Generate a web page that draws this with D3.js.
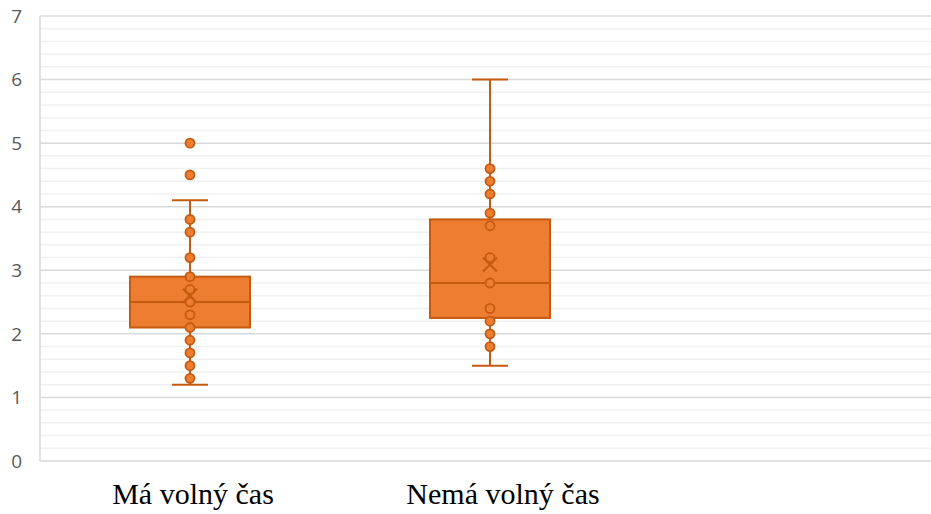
<!DOCTYPE html>
<html>
<head>
<meta charset="utf-8">
<script src="https://cdn.jsdelivr.net/npm/d3@7"></script>
<style>
  body { margin: 0; background: #fff; }
  svg { display: block; }
</style>
</head>
<body>
<svg id="chart" width="931" height="514"></svg>
<script>
// categories (third slot left empty, like the source chart)
const categories = ["Má volný čas", "Nemá volný čas", ""];

// box statistics
const q1 = [2.1, 2.25];
const median = [2.5, 2.8];
const q3 = [2.9, 3.8];
const mean = [2.6, 3.09];
const whiskerLow = [1.2, 1.5];
const whiskerHigh = [4.1, 6.0];

// individual points (inner points + outliers)
const pointsMa = [5.0, 4.5, 3.8, 3.6, 3.2, 2.9, 2.7, 2.5, 2.3, 2.1, 1.9, 1.7, 1.5, 1.3];
const pointsNema = [4.6, 4.4, 4.2, 3.9, 3.7, 3.2, 2.8, 2.4, 2.2, 2.0, 1.8];
const points = [pointsMa, pointsNema];

const yTicks = [0, 1, 2, 3, 4, 5, 6, 7];

const fill = "#ED7D31", stroke = "#C55A11";

const svg = d3.select("#chart");
const margin = { left: 40, right: -9, top: 16, bottom: 53 };
const W = 931, H = 514;

const x = d3.scaleBand()
    .domain(categories)
    .range([margin.left, W - margin.right]);

const y = d3.scaleLinear()
    .domain([0, 7])
    .range([H - margin.bottom, margin.top]);

// minor gridlines
const minor = d3.range(0, 7.001, 0.2).filter(v => Math.abs(v - Math.round(v)) > 0.01);
svg.append("g")
    .selectAll("line")
    .data(minor)
    .enter().append("line")
    .attr("x1", margin.left).attr("x2", W)
    .attr("y1", d => y(d)).attr("y2", d => y(d))
    .attr("stroke", "#f0f0f0")
    .attr("stroke-width", 1.5);

// major gridlines
svg.append("g")
    .selectAll("line")
    .data(yTicks)
    .enter().append("line")
    .attr("x1", margin.left).attr("x2", W)
    .attr("y1", d => y(d)).attr("y2", d => y(d))
    .attr("stroke", "#d9d9d9")
    .attr("stroke-width", 1.5);

// left axis line
svg.append("line")
    .attr("x1", margin.left).attr("x2", margin.left)
    .attr("y1", y(7)).attr("y2", y(0))
    .attr("stroke", "#d9d9d9")
    .attr("stroke-width", 1.5);

// y tick labels
svg.append("g")
    .selectAll("text")
    .data(yTicks)
    .enter().append("text")
    .attr("x", 22)
    .attr("y", d => y(d))
    .attr("dy", "0.35em")
    .attr("text-anchor", "end")
    .attr("font-family", "'Open Sans', 'Liberation Sans', sans-serif")
    .attr("font-size", 19)
    .attr("fill", "#595959")
    .text(d => d);

const boxW = 120;
const capW = 36;
const labelShift = [3, 13];

categories.slice(0, 2).forEach((c, i) => {
    const cx = x(c) + x.bandwidth() / 2;
    const g = svg.append("g");

    // whiskers
    g.append("line")
        .attr("x1", cx).attr("x2", cx)
        .attr("y1", y(whiskerHigh[i])).attr("y2", y(q3[i]))
        .attr("stroke", stroke).attr("stroke-width", 2);
    g.append("line")
        .attr("x1", cx).attr("x2", cx)
        .attr("y1", y(q1[i])).attr("y2", y(whiskerLow[i]))
        .attr("stroke", stroke).attr("stroke-width", 2);
    [whiskerHigh[i], whiskerLow[i]].forEach(v => {
        g.append("line")
            .attr("x1", cx - capW / 2).attr("x2", cx + capW / 2)
            .attr("y1", y(v)).attr("y2", y(v))
            .attr("stroke", stroke).attr("stroke-width", 2);
    });

    // box
    g.append("rect")
        .attr("x", cx - boxW / 2)
        .attr("y", y(q3[i]))
        .attr("width", boxW)
        .attr("height", y(q1[i]) - y(q3[i]))
        .attr("fill", fill)
        .attr("stroke", stroke)
        .attr("stroke-width", 2);

    // median
    g.append("line")
        .attr("x1", cx - boxW / 2).attr("x2", cx + boxW / 2)
        .attr("y1", y(median[i])).attr("y2", y(median[i]))
        .attr("stroke", stroke).attr("stroke-width", 2);

    // points
    g.selectAll("circle")
        .data(points[i])
        .enter().append("circle")
        .attr("cx", cx)
        .attr("cy", d => y(d))
        .attr("r", 4.5)
        .attr("fill", fill)
        .attr("stroke", stroke)
        .attr("stroke-width", 1.8);

    // mean marker (X)
    const my = y(mean[i]), s = 7;
    g.append("path")
        .attr("d", `M${cx - s},${my - s}L${cx + s},${my + s}M${cx - s},${my + s}L${cx + s},${my - s}`)
        .attr("stroke", stroke)
        .attr("stroke-width", 2.2)
        .attr("fill", "none");

    // category label
    svg.append("text")
        .attr("x", cx + labelShift[i])
        .attr("y", 504)
        .attr("text-anchor", "middle")
        .attr("font-family", "'Liberation Serif', 'Times New Roman', serif")
        .attr("font-size", 30)
        .attr("fill", "#000")
        .text(c);
});
</script>
</body>
</html>
